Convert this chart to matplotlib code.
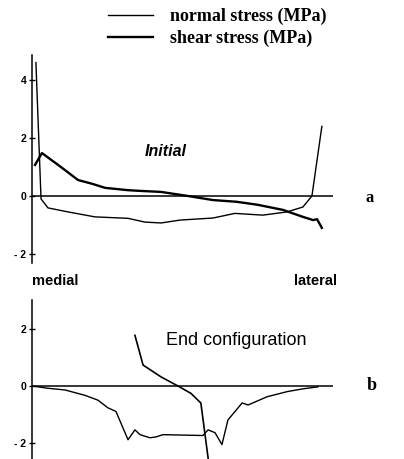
import matplotlib
matplotlib.use("Agg")
import matplotlib.pyplot as plt

plt.rcParams['font.family'] = ['Liberation Sans', 'DejaVu Sans']

# position across the joint, % of width (medial -> lateral)
top_x_normal = [1.3, 3.0, 5.3, 12.0, 20.9, 31.9, 37.5, 42.9, 49.2, 60.1, 67.4, 76.7, 84.7, 90.0, 93.0, 96.3]
top_normal = [4.6, -0.1, -0.41, -0.55, -0.72, -0.77, -0.9, -0.93, -0.83, -0.76, -0.6, -0.66, -0.55, -0.38, 0.0, 2.4]

top_x_shear = [1.0, 3.3, 9.6, 15.3, 20.0, 24.3, 31.9, 37.0, 42.9, 51.8, 60.1, 68.0, 74.8, 83.4, 90.0, 93.4, 94.7, 96.3]
top_shear = [1.07, 1.48, 1.0, 0.55, 0.42, 0.28, 0.2, 0.17, 0.14, 0.0, -0.14, -0.2, -0.3, -0.48, -0.72, -0.83, -0.8, -1.1]

bot_x_normal = [0.0, 5.3, 11.0, 17.6, 21.9, 25.2, 27.9, 31.9, 34.2, 35.9, 39.2, 41.2, 43.5, 56.8, 58.5,
                60.8, 63.1, 65.1, 69.8, 71.8, 78.1, 84.7, 90.0, 95.0]
bot_normal = [0.0, -0.08, -0.14, -0.33, -0.5, -0.77, -0.9, -1.9, -1.55, -1.72, -1.83, -1.8, -1.72, -1.75, -1.55,
              -1.65, -2.07, -1.2, -0.6, -0.67, -0.38, -0.2, -0.1, -0.03]

bot_x_shear = [34.2, 36.9, 42.9, 48.5, 52.8, 56.1, 58.7]
bot_shear = [1.79, 0.74, 0.32, 0.0, -0.26, -0.6, -2.7]

W, H = 404, 459
fig = plt.figure(figsize=(W / 100, H / 100), dpi=100)

def make_ax(top_px, bot_px, ylim, ticks, labels):
    ax = fig.add_axes([32 / W, (H - bot_px) / H, 301 / W, (bot_px - top_px) / H])
    ax.set_xlim(0, 100)
    ax.set_ylim(*ylim)
    for s in ['top', 'right', 'bottom']:
        ax.spines[s].set_visible(False)
    ax.spines['left'].set_linewidth(1.1)
    ax.set_xticks([])
    ax.set_yticks(ticks)
    ax.set_yticklabels(labels, fontweight='bold', fontsize=7.5)
    ax.tick_params(axis='y', direction='inout', length=4, width=1, pad=2)
    ax.axhline(0, color='black', lw=1.1)
    ax.patch.set_visible(False)
    return ax

ax1 = make_ax(55, 263, (-2.31, 4.86), [4, 2, 0, -2], ['4', '2', '0', '- 2'])
ax1.plot(top_x_normal, top_normal, color='black', lw=1.0, label='normal stress (MPa)')
ax1.plot(top_x_shear, top_shear, color='black', lw=1.7, label='shear stress (MPa)')
ax1.text(44.5, 1.55, 'Initial', fontsize=11.5, fontweight='bold', fontstyle='italic', ha='center', va='center')

ax2 = make_ax(300, 459, (-2.58, 3.04), [2, 0, -2], ['2', '0', '- 2'])
ax2.plot(bot_x_normal, bot_normal, color='black', lw=1.0)
ax2.plot(bot_x_shear, bot_shear, color='black', lw=1.2)
ax2.text(44.5, 1.6, 'End configuration', fontsize=13, ha='left', va='center')

fig.text(32 / W, 1 - 281 / H, 'medial', fontsize=10.5, fontweight='bold', ha='left', va='center')
fig.text(337 / W, 1 - 281 / H, 'lateral', fontsize=10.5, fontweight='bold', ha='right', va='center')
fig.text(370 / W, 1 - 198 / H, 'a', fontsize=12, fontweight='bold', family='Liberation Serif', ha='center', va='center')
fig.text(372 / W, 1 - 386 / H, 'b', fontsize=13, fontweight='bold', family='Liberation Serif', ha='center', va='center')

handles, names = ax1.get_legend_handles_labels()
fig.legend(handles, names, loc='upper left', bbox_to_anchor=(108 / W, 1 - 8 / H), frameon=False,
           prop={'family': 'Liberation Serif', 'size': 13, 'weight': 'bold'},
           handlelength=2.5, handletextpad=0.95, labelspacing=0.25, borderpad=0, borderaxespad=0)

fig.savefig('out.png', dpi=100)
